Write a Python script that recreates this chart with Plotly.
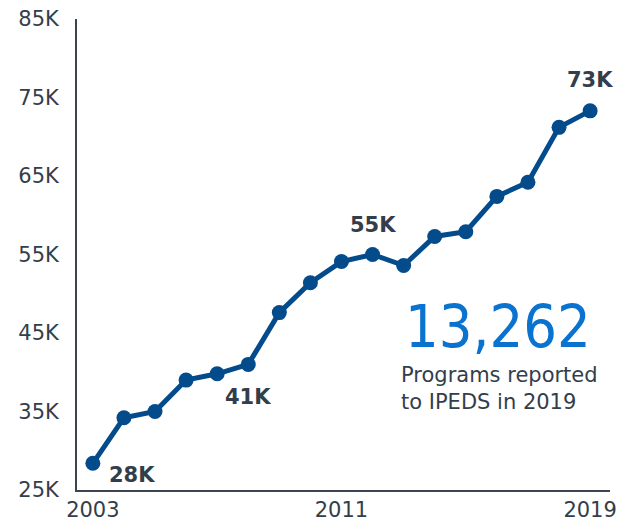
import plotly.graph_objects as go

# Degree programs reported each year, in thousands
years = list(range(2003, 2020))
programs_k = [28.4, 34.2, 35.0, 39.0, 39.8, 41.0, 47.6, 51.4, 54.1, 55.0,
              53.6, 57.3, 57.9, 62.4, 64.2, 71.2, 73.3]

# Years whose values get a bold callout, with the label offset direction
callout_years = [2003, 2008, 2012, 2019]
callout_offsets = [(39, -12), (0, -33), (0, 30), (0, 31)]

x_tick_years = [2003, 2011, 2019]
y_ticks_k = [25, 35, 45, 55, 65, 75, 85]

headline_value = "13,262"
headline_caption = "Programs reported<br>to IPEDS in 2019"

LINE_BLUE = "#034b8a"
TEXT_GRAY = "#333e4b"
AXIS_GRAY = "#3b4450"
HEADLINE_BLUE = "#0a72cf"

fig = go.Figure()
fig.add_trace(go.Scatter(
    x=years, y=programs_k, mode="lines+markers",
    line=dict(color=LINE_BLUE, width=5),
    marker=dict(color=LINE_BLUE, size=15),
    cliponaxis=False, hoverinfo="skip",
))

annotations = []
for yr, (dx, dy) in zip(callout_years, callout_offsets):
    v = programs_k[years.index(yr)]
    annotations.append(dict(
        x=yr, y=v, xref="x", yref="y", text=f"<b>{round(v)}K</b>",
        showarrow=False, xshift=dx, yshift=dy,
        font=dict(family="DejaVu Sans", size=21, color=TEXT_GRAY),
    ))

annotations.append(dict(
    x=0.611, y=0.347, xref="paper", yref="paper", xanchor="left", yanchor="middle",
    text=headline_value, showarrow=False,
    font=dict(family="DejaVu Sans Condensed, DejaVu Sans", size=59, color=HEADLINE_BLUE),
))
annotations.append(dict(
    x=0.604, y=0.215, xref="paper", yref="paper", xanchor="left", yanchor="middle",
    text=headline_caption, showarrow=False, align="left",
    font=dict(family="DejaVu Sans", size=21, color=TEXT_GRAY),
))

fig.update_layout(
    width=622, height=523,
    margin=dict(l=77, r=12, t=19, b=33),
    paper_bgcolor="white", plot_bgcolor="white",
    showlegend=False,
    font=dict(family="DejaVu Sans", size=21, color=TEXT_GRAY),
    annotations=annotations,
    xaxis=dict(
        range=[2002.49, 2019.64], tickvals=x_tick_years,
        ticktext=[str(y) for y in x_tick_years],
        showgrid=False, zeroline=False, automargin=False,
        showline=True, linecolor=AXIS_GRAY, linewidth=2,
        ticks="", ticklabelstandoff=0,
        tickfont=dict(family="DejaVu Sans", size=21, color=TEXT_GRAY),
    ),
    yaxis=dict(
        range=[25, 85], tickvals=y_ticks_k,
        ticktext=[f"{v}K" for v in y_ticks_k],
        showgrid=False, zeroline=False, automargin=False,
        showline=True, linecolor=AXIS_GRAY, linewidth=2,
        ticks="", ticklabelstandoff=12,
        tickfont=dict(family="DejaVu Sans", size=21, color=TEXT_GRAY),
    ),
)

fig.write_html("out.html")
